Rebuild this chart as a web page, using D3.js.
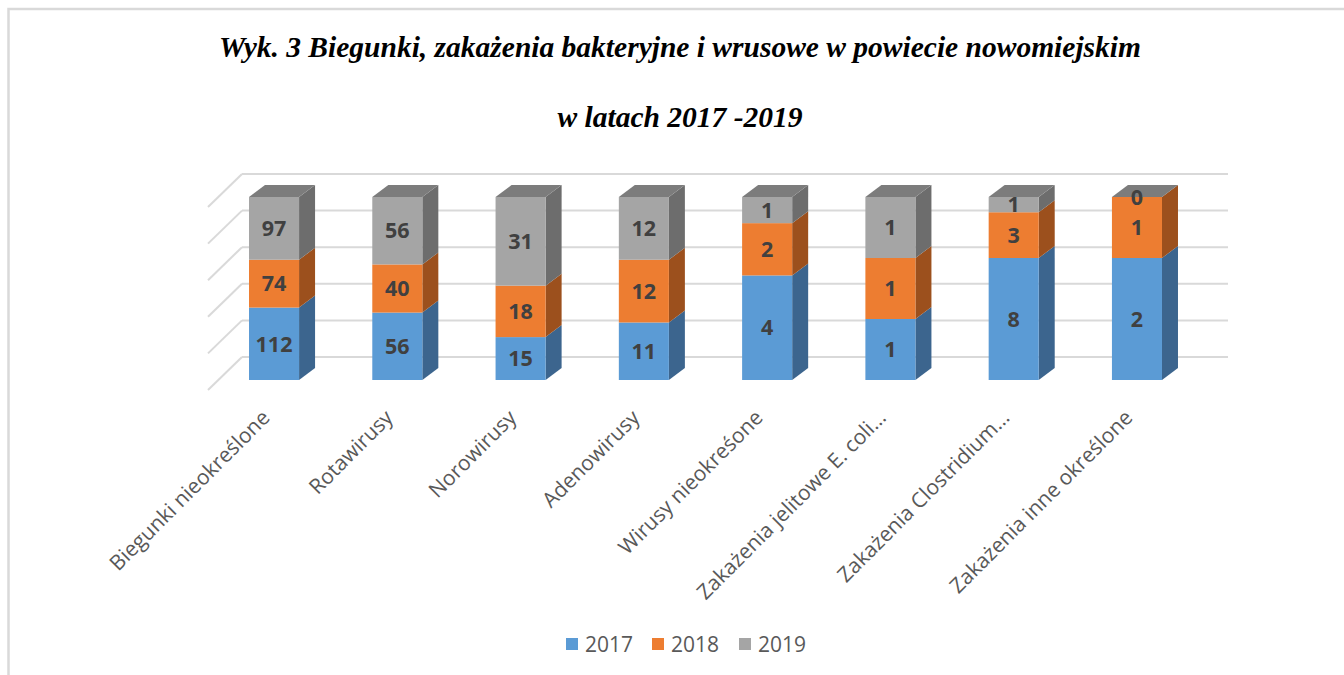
<!DOCTYPE html>
<html lang=pl>
<head>
<meta charset="utf-8">
<style>
  body { margin: 0; background: #fff; }
  #chart { width: 1344px; height: 675px; }
  .title { font-family: 'Liberation Serif', 'Times New Roman', serif; font-weight: bold; font-style: italic; font-size: 29.5px; fill: #000; }
  .lbl { font-family: 'Open Sans', sans-serif; font-weight: bold; font-size: 21.5px; fill: #404040; }
  .cat { font-family: 'Open Sans', sans-serif; font-size: 21px; fill: #595959; }
  .leg { font-family: 'Open Sans', sans-serif; font-size: 21px; fill: #595959; }
</style>
<title>Wyk. 3</title>
</head>
<body>
<div id="chart"></div>
<script src="https://d3js.org/d3.v7.min.js"></script>
<script>
// data
var categories = ["Biegunki nieokreślone", "Rotawirusy", "Norowirusy", "Adenowirusy",
  "Wirusy nieokreśone", "Zakażenia jelitowe E. coli…", "Zakażenia Clostridium…", "Zakażenia inne określone"];
var years = ["2017", "2018", "2019"];
var v2017 = [112, 56, 15, 11, 4, 1, 8, 2];
var v2018 = [74, 40, 18, 12, 2, 1, 3, 1];
var v2019 = [97, 56, 31, 12, 1, 1, 1, 0];
var gridTicks = [0, 0.2, 0.4, 0.6, 0.8, 1];

(function() {
  var width = 1344, height = 675;
  var svg = d3.select("#chart").append("svg")
      .attr("width", width)
      .attr("height", height);

  // frame
  svg.append("rect")
      .attr("x", 8.5).attr("y", 9)
      .attr("width", 1400).attr("height", 700)
      .attr("fill", "none")
      .attr("stroke", "#d9d9d9")
      .attr("stroke-width", 2.5);

  // title
  svg.append("text").attr("class", "title")
      .attr("x", 680).attr("y", 57)
      .attr("text-anchor", "middle")
      .text("Wyk. 3 Biegunki, zakażenia bakteryjne i wrusowe w powiecie nowomiejskim");
  svg.append("text").attr("class", "title")
      .attr("x", 680).attr("y", 127)
      .attr("text-anchor", "middle")
      .text("w latach 2017 -2019");

  var colors = {
    "2017": {front: "#5b9bd5", side: "#3c658e"},
    "2018": {front: "#ed7d31", side: "#9c501d"},
    "2019": {front: "#a5a5a5", side: "#6d6d6d"}
  };
  var topColor = "#7c7c7c";

  var x = d3.scaleBand()
      .domain(categories)
      .range([212.4, 1198.6])
      .paddingInner(0.594)
      .paddingOuter(0.297);
  var y = d3.scaleLinear().domain([0, 1]).range([380, 197]);

  // depth offsets
  var dx = 16, dy = 12;          // column depth
  var wallDy = 23;               // back wall offset
  var wallX0 = 242, wallX1 = 1228;
  var sideDx = 34, sideDy = 33;  // left wall

  // back wall grid + left wall lines
  var grid = svg.append("g")
      .attr("stroke", "#d9d9d9")
      .attr("stroke-width", 2)
      .attr("fill", "none");
  grid.selectAll("line.h")
    .data(gridTicks)
    .enter().append("line")
      .attr("class", "h")
      .attr("x1", wallX0).attr("x2", wallX1)
      .attr("y1", function(d) { return y(d) - wallDy; })
      .attr("y2", function(d) { return y(d) - wallDy; });
  grid.selectAll("line.d")
    .data(gridTicks)
    .enter().append("line")
      .attr("class", "d")
      .attr("x1", wallX0).attr("x2", wallX0 - sideDx)
      .attr("y1", function(d) { return y(d) - wallDy; })
      .attr("y2", function(d) { return y(d) - wallDy + sideDy; });

  // 100% stacked data
  var table = categories.map(function(c, i) {
    var t = v2017[i] + v2018[i] + v2019[i];
    return {cat: c, "2017": v2017[i] / t, "2018": v2018[i] / t, "2019": v2019[i] / t,
            raw: {"2017": v2017[i], "2018": v2018[i], "2019": v2019[i]}};
  });
  var series = d3.stack().keys(years)(table);

  var bw = x.bandwidth();
  var cols = svg.append("g");

  series.forEach(function(s) {
    var g = cols.append("g");
    // side face
    g.selectAll("path.side")
      .data(s)
      .enter().append("path")
        .attr("fill", colors[s.key].side)
        .attr("d", function(d) {
          var x1 = x(d.data.cat) + bw, yb = y(d[0]), yt = y(d[1]);
          return "M" + x1 + "," + yb + "L" + (x1 + dx) + "," + (yb - dy) +
                 "L" + (x1 + dx) + "," + (yt - dy) + "L" + x1 + "," + yt + "Z";
        });
    // front face
    g.selectAll("rect")
      .data(s)
      .enter().append("rect")
        .attr("fill", colors[s.key].front)
        .attr("x", function(d) { return x(d.data.cat); })
        .attr("y", function(d) { return y(d[1]); })
        .attr("width", bw)
        .attr("height", function(d) { return y(d[0]) - y(d[1]); });
  });

  // top faces
  cols.append("g").selectAll("path")
    .data(series[series.length - 1])
    .enter().append("path")
      .attr("fill", topColor)
      .attr("d", function(d) {
        var x0 = x(d.data.cat), yt = y(d[1]);
        return "M" + x0 + "," + yt + "L" + (x0 + dx) + "," + (yt - dy) +
               "L" + (x0 + bw + dx) + "," + (yt - dy) + "L" + (x0 + bw) + "," + yt + "Z";
      });

  // data labels
  series.forEach(function(s) {
    cols.append("g").selectAll("text")
      .data(s)
      .enter().append("text")
        .attr("class", "lbl")
        .attr("text-anchor", "middle")
        .attr("x", function(d) { return x(d.data.cat) + bw / 2; })
        .attr("y", function(d) { return (y(d[0]) + y(d[1])) / 2; })
        .attr("dy", "0.36em")
        .text(function(d) { return d.data.raw[s.key]; });
  });

  // category labels
  svg.append("g").selectAll("text")
    .data(categories)
    .enter().append("text")
      .attr("class", "cat")
      .attr("text-anchor", "end")
      .attr("transform", function(d) {
        return "translate(" + (x(d) + bw / 2 - 3) + ",419) rotate(-45)";
      })
      .text(function(d) { return d; });

  // legend
  var legX = [566, 652, 739];
  var legend = svg.append("g").selectAll("g")
    .data(years)
    .enter().append("g")
      .attr("transform", function(d, i) { return "translate(" + legX[i] + ",638)"; });
  legend.append("rect")
      .attr("width", 12).attr("height", 12)
      .attr("fill", function(d) { return colors[d].front; });
  legend.append("text")
      .attr("class", "leg")
      .attr("x", 19).attr("y", 6)
      .attr("dy", "0.36em")
      .text(function(d) { return d; });
})();
</script>
</body>
</html>
